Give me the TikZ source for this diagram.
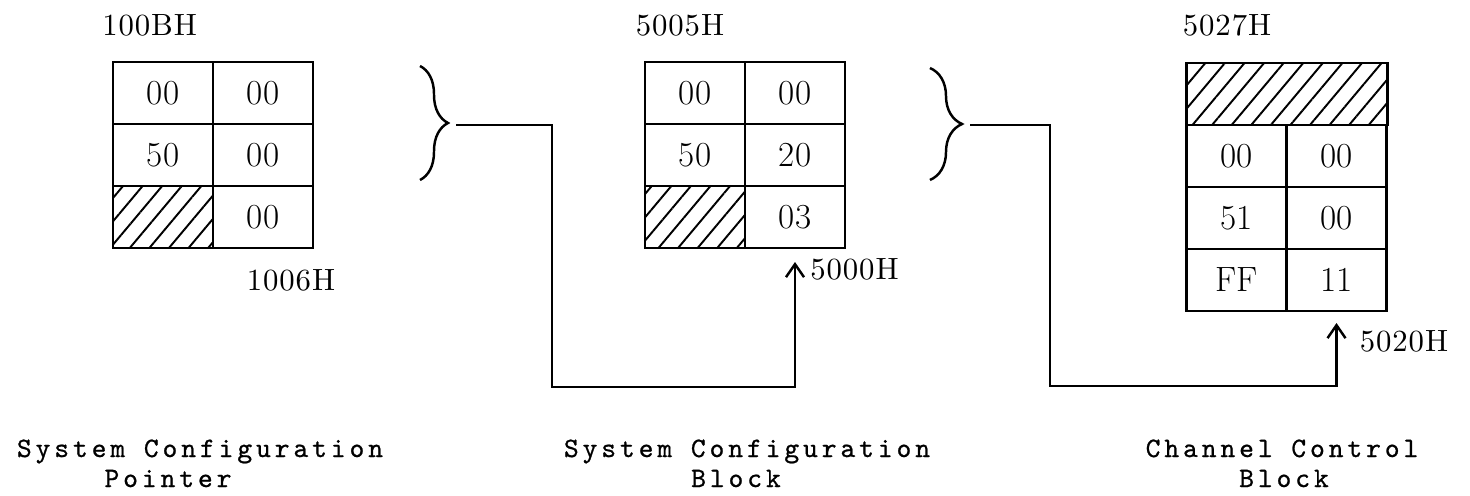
\documentclass[tikz,border=0pt]{standalone}
\usepackage{fontspec}
\usetikzlibrary{arrows.meta,positioning,patterns.meta,decorations.pathreplacing}

\newfontfamily\addrfam{lmroman10-regular}[Extension=.otf,LetterSpace=3]
\newfontfamily\capfam{lmmono10-regular}[Extension=.otf,LetterSpace=14,FakeBold=0.8]
\newcommand{\cellfont}{\fontsize{20}{22}\selectfont}
\newcommand{\addrfont}{\addrfam\fontsize{17.5}{20}\selectfont}
\newcommand{\capfont}{\capfam\fontsize{16}{18}\selectfont}

\begin{document}
\begin{tikzpicture}[
  x=0.2mm,y=-0.2mm,
  node distance=0pt,
  cell/.style={draw,line width=1.4pt,minimum width=20mm,minimum height=12.4mm,inner sep=0pt,outer sep=0pt,font=\cellfont},
  hatched/.style={cell,pattern={Lines[angle=50,distance=3mm,line width=1.1pt]}},
  addr/.style={font=\addrfont,inner sep=0pt},
  caption/.style={font=\capfont,inner sep=0pt,anchor=base},
  ptr/.style={line width=1.4pt,-{Straight Barb[length=2.6mm,width=3.6mm]}},
  curly/.style={line width=1.4pt,decorate,decoration={brace,amplitude=#1}}
]
\useasboundingbox (0,0) rectangle (1470,496);

% pointer
\node[cell] (p11) at (163,93) {00};
\node[cell,right=of p11] (p12) {00};
\node[cell,below=of p11] (p21) {50};
\node[cell,right=of p21] (p22) {00};
\node[hatched,below=of p21] (p31) {};
\node[cell,right=of p31] (p32) {00};
\node[addr,anchor=west] (a100b) at (102,25) {100BH};
\node[addr] (a1006) at (291,280) {1006H};

% configuration block
\node[cell] (s11) at (695,93) {00};
\node[cell,right=of s11] (s12) {00};
\node[cell,below=of s11] (s21) {50};
\node[cell,right=of s21] (s22) {20};
\node[hatched,below=of s21] (s31) {};
\node[cell,right=of s31] (s32) {03};
\node[addr] (a5005) at (680,25) {5005H};

% channel control block
\node[hatched,minimum width=40.2mm] (chat) at (1287,94) {};
\node[cell,anchor=north west] (c11) at (chat.south west) {00};
\node[cell,right=of c11] (c12) {00};
\node[cell,below=of c11] (c21) {51};
\node[cell,right=of c21] (c22) {00};
\node[cell,below=of c21] (c31) {FF};
\node[cell,right=of c31] (c32) {11};
\node[addr] (a5027) at (1227,25) {5027H};

% braces and links
\draw[curly=5.6mm] (420,66) -- (420,180);
\draw[curly=6.4mm] (930,68) -- (930,180);
\coordinate (b1tip) at (456,125);
\coordinate (b2tip) at (970,125);
\coordinate (k1) at (552,387);
\coordinate (k2) at (1050,386);
\coordinate (s2in) at ([yshift=-2.8mm]s32.south);
\coordinate (c3in) at ([yshift=-2.4mm]c32.south);
\draw[ptr] (b1tip) -| (k1) -| (s2in);
\draw[ptr] (b2tip) -| (k2) -| (c3in);
\node[addr,anchor=west] (a5000) at ([xshift=3mm,yshift=-1.4mm]s2in) {5000H};
\node[addr,anchor=west] (a5020) at ([xshift=4.6mm,yshift=-3.6mm]c3in) {5020H};

% captions
\node[caption] (t1a) at (200,457) {System Configuration};
\node[caption] (t1b) at (168,487) {Pointer};
\node[caption] (t2a) at (747,457) {System Configuration};
\node[caption] (t2b) at (736,487) {Block};
\node[caption] (t3a) at (1282,457) {Channel Control};
\node[caption] (t3b) at (1284,487) {Block};
\end{tikzpicture}
\end{document}
